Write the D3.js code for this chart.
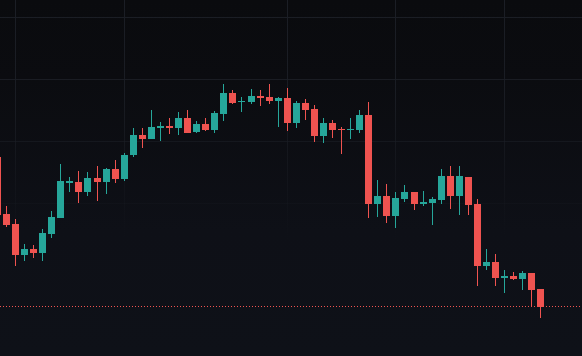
<!DOCTYPE html>
<html>
<head>
<meta charset="utf-8">
<script src="https://cdn.jsdelivr.net/npm/d3@7"></script>
<style>
html,body{margin:0;padding:0;background:#0e1118;overflow:hidden;}
svg{display:block;}
</style>
</head>
<body>
<svg id="chart" width="582" height="356"></svg>
<script>
const openVals  = [22490,21920,21820,21510,21570,21530,21720,21880,22230,22240,22140,22280,22240,22370,22270,22510,22710,22670,22780,22800,22780,22880,22740,22820,22760,22920,23130,23040,23040,23100,23090,23050,23080,22830,23030,22970,22700,22830,22770,22760,22760,22910,22020,22100,21900,22070,22140,22020,22030,22060,22300,22100,22290,22020,21400,21440,21280,21300,21270,21330,21170];
const highVals  = [22540,22000,21870,21620,21610,21770,21950,22420,22290,22350,22340,22400,22380,22460,22530,22780,22780,22960,22840,22880,22940,22960,22850,22880,22950,23220,23160,23090,23170,23160,23220,23090,23180,23050,23070,23010,22880,22860,22790,22880,22960,23040,22260,22220,22140,22210,22140,22150,22090,22370,22400,22400,22290,22070,21570,21520,21360,21340,21350,21330,21170];
const lowVals   = [21880,21790,21400,21450,21480,21450,21680,21880,22140,22030,22100,22050,22120,22230,22250,22490,22580,22670,22650,22720,22710,22730,22730,22750,22730,22850,23020,22940,23020,23000,23020,22790,22750,22780,22860,22640,22630,22680,22520,22670,22730,21880,21890,21830,21780,22040,21960,22000,21810,22020,21970,21910,21910,21200,21360,21200,21130,21260,21160,20990,20880];
const closeVals = [21910,21810,21510,21570,21530,21730,21890,22250,22250,22140,22280,22240,22370,22270,22510,22710,22670,22790,22800,22780,22880,22730,22820,22760,22930,23130,23030,23050,23100,23080,23050,23080,22830,23030,22960,22700,22830,22760,22760,22770,22910,22020,22100,21900,22080,22140,22020,22040,22070,22300,22100,22300,22010,21400,21440,21280,21300,21270,21330,21160,20995];
const gridCandles = [2,14,32,44,56];
const gridPrices = [23890,23270,22650,22030,21410,20790];

const W = 582, H = 356;
const svg = d3.select('#chart');
const defs = svg.append('defs');

const bg = defs.append('linearGradient').attr('id','bg').attr('x1',0).attr('y1',0).attr('x2',0).attr('y2',1);
bg.append('stop').attr('offset','0%').attr('stop-color','#0a0b0e');
bg.append('stop').attr('offset','22%').attr('stop-color','#0b0c10');
bg.append('stop').attr('offset','65%').attr('stop-color','#0e1017');
bg.append('stop').attr('offset','100%').attr('stop-color','#0e1118');
svg.append('rect').attr('width',W).attr('height',H).attr('fill','url(#bg)');

const gg = defs.append('linearGradient').attr('id','gridFade').attr('gradientUnits','userSpaceOnUse')
  .attr('x1',0).attr('y1',0).attr('x2',0).attr('y2',240);
gg.append('stop').attr('offset','0%').attr('stop-color','#1b1e25').attr('stop-opacity',1);
gg.append('stop').attr('offset','40%').attr('stop-color','#1b1e25').attr('stop-opacity',0.9);
gg.append('stop').attr('offset','100%').attr('stop-color','#1b1e25').attr('stop-opacity',0);

const n = openVals.length;
const x = d3.scaleLinear().domain([0, n-1]).range([-3.06, 540.3]);
const y = d3.scaleLinear().domain([20500, 24060]).range([H, 0]);
const cx = i => Math.round(x(i)) + 0.5;

const grid = svg.append('g');
grid.selectAll('line.v').data(gridCandles).join('line')
  .attr('x1', d => cx(d)).attr('x2', d => cx(d)).attr('y1', 0).attr('y2', H)
  .attr('stroke','url(#gridFade)').attr('stroke-width',1);
grid.selectAll('line.h').data(gridPrices).join('line')
  .attr('x1', 0).attr('x2', W)
  .attr('y1', d => Math.round(y(d)) + 0.5).attr('y2', d => Math.round(y(d)) + 0.5)
  .attr('stroke','url(#gridFade)').attr('stroke-width',1);

const data = d3.range(n).map(i => ({i, o:openVals[i], h:highVals[i], l:lowVals[i], c:closeVals[i]}));
const up = '#26a69a', down = '#ef5350';

const g = svg.append('g');
g.selectAll('line.wick').data(data).join('line')
  .attr('x1', d => cx(d.i)).attr('x2', d => cx(d.i))
  .attr('y1', d => Math.round(y(d.h))).attr('y2', d => Math.round(y(d.l)))
  .attr('stroke', d => d.c >= d.o ? up : down).attr('stroke-width',1);
g.selectAll('rect.body').data(data).join('rect')
  .attr('x', d => cx(d.i) - 3.5)
  .attr('width', 7)
  .attr('y', d => Math.round(y(Math.max(d.o, d.c))))
  .attr('height', d => Math.max(1, Math.round(y(Math.min(d.o, d.c))) - Math.round(y(Math.max(d.o, d.c)))))
  .attr('fill', d => d.c >= d.o ? up : down);

const last = closeVals[n-1];
svg.append('line')
  .attr('x1', 0).attr('x2', W)
  .attr('y1', Math.floor(y(last)) + 0.5).attr('y2', Math.floor(y(last)) + 0.5)
  .attr('stroke', down).attr('stroke-width',1).attr('stroke-dasharray','1,2');
</script>
</body>
</html>
